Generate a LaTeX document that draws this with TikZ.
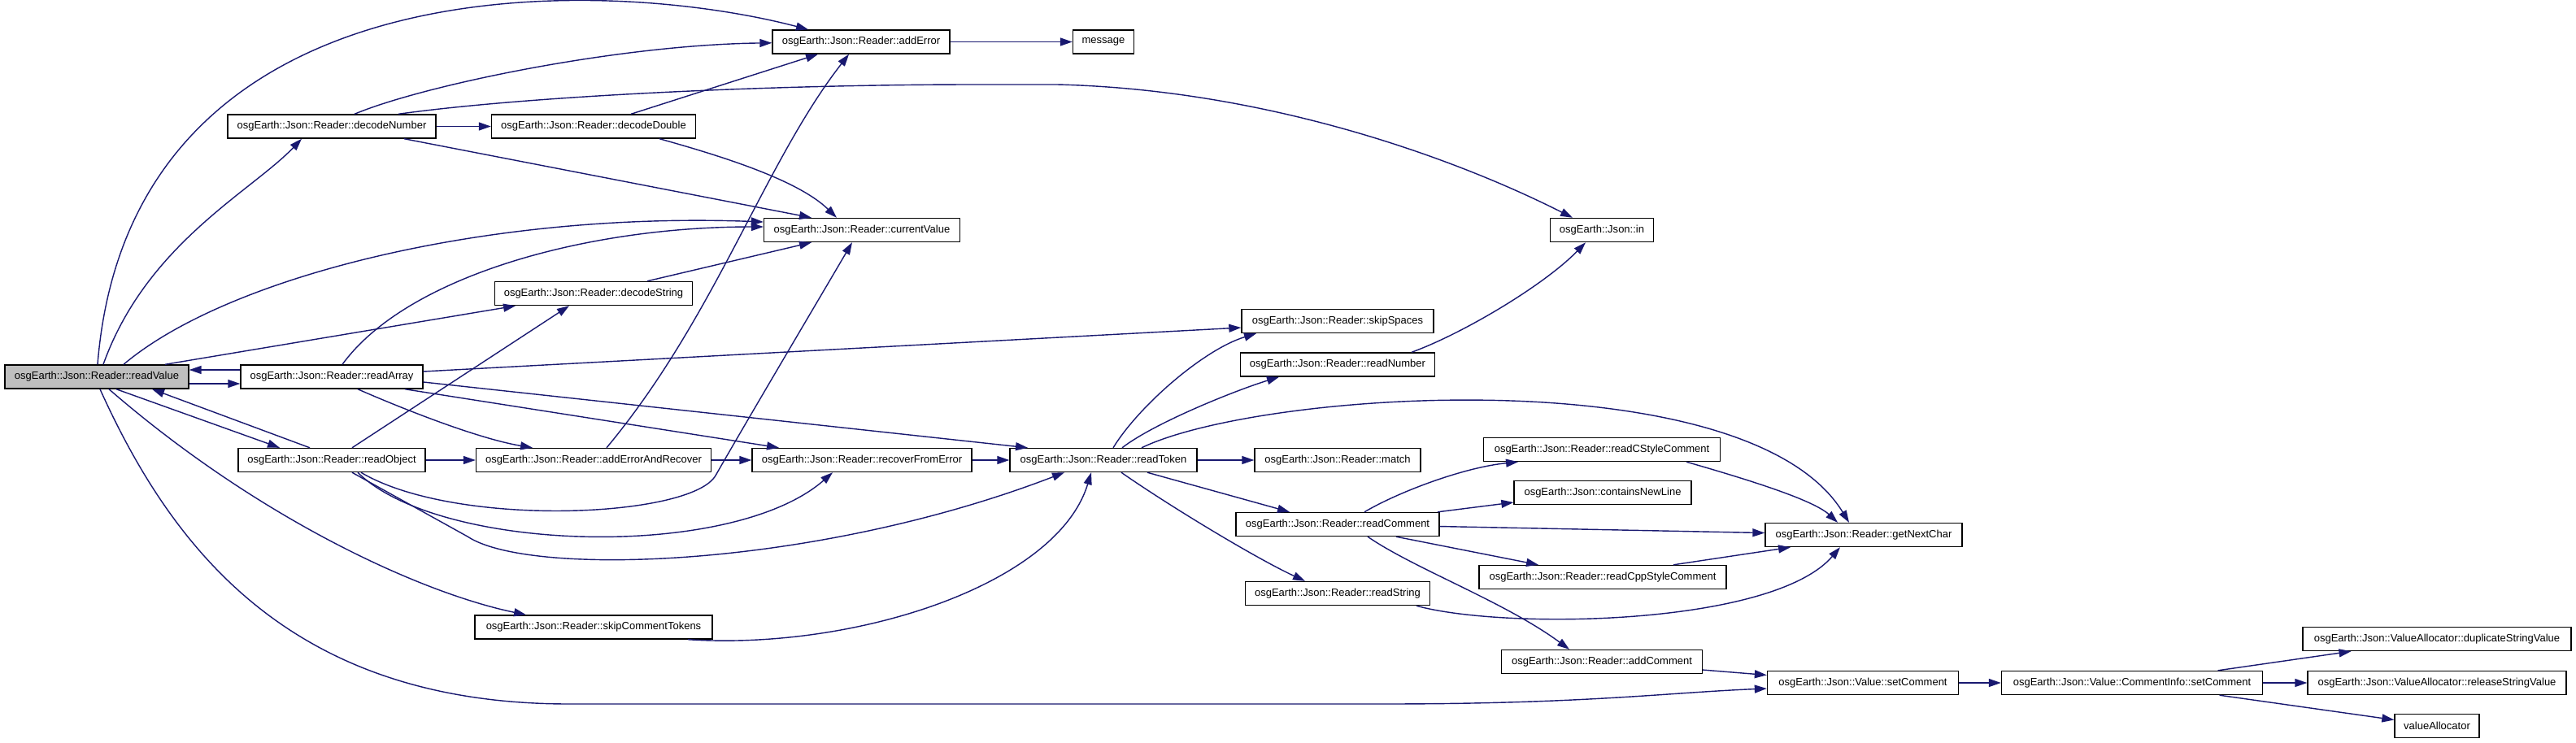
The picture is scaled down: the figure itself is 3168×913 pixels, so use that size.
\documentclass[tikz,border=0pt]{standalone}
\usepackage{fontspec}
\setmainfont{Liberation Sans}
\usetikzlibrary{arrows.meta}
\definecolor{callblue}{HTML}{191970}
\definecolor{rootgray}{HTML}{BFBFBF}
\tikzset{
  fn/.style={draw=black,fill=white,line width=0.8pt,minimum height=0.58cm,inner xsep=0pt,
    font=\fontsize{7.4}{8}\selectfont},
  fnroot/.style={fn,fill=rootgray},
  call/.style={-{Triangle[length=0.3cm,width=0.2cm]},callblue,line width=0.8pt},
}

\begin{document}
\begin{tikzpicture}[x=0.02cm,y=-0.02cm]
  \useasboundingbox (0,0) rectangle (3168,913);
  % functions, one column per call depth
  \node[fnroot,minimum width=4.52cm] (readValue) at (119,463.5) {osgEarth::Json::Reader::readValue};
  \node[fn,minimum width=5.12cm] (decodeNumber) at (408,155.5) {osgEarth::Json::Reader::decodeNumber};
  \node[fn,minimum width=4.48cm] (readArray) at (408,463.5) {osgEarth::Json::Reader::readArray};
  \node[fn,minimum width=4.60cm] (readObject) at (408,566) {osgEarth::Json::Reader::readObject};
  \node[fn,minimum width=5.02cm] (decodeDouble) at (730,155.5) {osgEarth::Json::Reader::decodeDouble};
  \node[fn,minimum width=4.86cm] (decodeString) at (730,361) {osgEarth::Json::Reader::decodeString};
  \node[fn,minimum width=5.78cm] (addErrorAndRecover) at (730,566) {osgEarth::Json::Reader::addErrorAndRecover};
  \node[fn,minimum width=5.84cm] (skipCommentTokens) at (730,771.5) {osgEarth::Json::Reader::skipCommentTokens};
  \node[fn,minimum width=4.36cm] (addError) at (1059,51.5) {osgEarth::Json::Reader::addError};
  \node[fn,minimum width=4.82cm] (currentValue) at (1060,283) {osgEarth::Json::Reader::currentValue};
  \node[fn,minimum width=5.40cm] (recoverFromError) at (1060,566) {osgEarth::Json::Reader::recoverFromError};
  \node[fn,minimum width=1.50cm] (message) at (1357,51.5) {message};
  \node[fn,minimum width=4.60cm] (readToken) at (1357,566) {osgEarth::Json::Reader::readToken};
  \node[fn,minimum width=4.72cm] (skipSpaces) at (1645,395) {osgEarth::Json::Reader::skipSpaces};
  \node[fn,minimum width=4.78cm] (readNumber) at (1645,448.5) {osgEarth::Json::Reader::readNumber};
  \node[fn,minimum width=4.08cm] (match) at (1645,566) {osgEarth::Json::Reader::match};
  \node[fn,minimum width=5.00cm] (readComment) at (1645,645) {osgEarth::Json::Reader::readComment};
  \node[fn,minimum width=4.54cm] (readString) at (1645,730) {osgEarth::Json::Reader::readString};
  \node[fn,minimum width=2.54cm] (in) at (1970,283) {osgEarth::Json::in};
  \node[fn,minimum width=5.82cm] (readCStyleComment) at (1970,553) {osgEarth::Json::Reader::readCStyleComment};
  \node[fn,minimum width=4.36cm] (containsNewLine) at (1971,606) {osgEarth::Json::containsNewLine};
  \node[fn,minimum width=6.08cm] (readCppStyleComment) at (1971,710) {osgEarth::Json::Reader::readCppStyleComment};
  \node[fn,minimum width=4.94cm] (addComment) at (1970,814) {osgEarth::Json::Reader::addComment};
  \node[fn,minimum width=4.84cm] (getNextChar) at (2292,658) {osgEarth::Json::Reader::getNextChar};
  \node[fn,minimum width=4.70cm] (vSetComment) at (2291,840) {osgEarth::Json::Value::setComment};
  \node[fn,minimum width=6.42cm] (ciSetComment) at (2622,840) {osgEarth::Json::Value::CommentInfo::setComment};
  \node[fn,minimum width=6.60cm] (duplicateStringValue) at (2997,786) {osgEarth::Json::ValueAllocator::duplicateStringValue};
  \node[fn,minimum width=6.36cm] (releaseStringValue) at (2997,840) {osgEarth::Json::ValueAllocator::releaseStringValue};
  \node[fn,minimum width=2.08cm] (valueAllocator) at (2997,893) {valueAllocator};

  % readValue
  \draw[call] ([xshift=0.02cm]readValue.north) .. controls (160,-50) and (740,-30) .. ([xshift=-1.3cm]addError.north);
  \draw[call] ([xshift=0.16cm]readValue.north) .. controls (180,300) and (310,235) .. ([xshift=-0.74cm]decodeNumber.south);
  \draw[call] ([xshift=0.66cm]readValue.north) .. controls (280,340) and (600,260) .. ([yshift=0.2cm]currentValue.west);
  \draw[call] ([xshift=1.68cm]readValue.north) -- ([xshift=-1.92cm]decodeString.south);
  \draw[call] ([yshift=-0.17cm]readValue.east) -- ([yshift=-0.17cm]readArray.west);
  \draw[call] ([xshift=0.48cm]readValue.south) -- ([xshift=-1.28cm]readObject.north);
  \draw[call] ([xshift=0.3cm]readValue.south) .. controls (320,640) and (520,730) .. ([xshift=-1.66cm]skipCommentTokens.north);
  \draw[call] ([xshift=0.08cm]readValue.south) .. controls (213,678) and (360,866) .. (700,866) -- (1700,866)
    .. controls (1950,866) and (2050,852) .. ([yshift=-0.14cm]vSetComment.west);
  % readArray
  \draw[call] ([yshift=0.17cm]readArray.west) -- ([yshift=0.17cm]readValue.east);
  \draw[call] ([xshift=0.26cm]readArray.north) .. controls (500,340) and (720,279) .. ([yshift=0.08cm]currentValue.west);
  \draw[call] ([yshift=0.13cm]readArray.east) -- ([yshift=-0.16cm]skipSpaces.west);
  \draw[call] ([yshift=-0.13cm]readArray.east) -- ([xshift=-1.86cm]readToken.north);
  \draw[call] ([xshift=0.64cm]readArray.south) .. controls (500,505) and (590,540) .. ([xshift=-1.5cm]addErrorAndRecover.north);
  \draw[call] ([xshift=1.8cm]readArray.south) -- ([xshift=-2.04cm]recoverFromError.north);
  % readObject
  \draw[call] ([xshift=-0.54cm]readObject.north) -- ([xshift=1.36cm]readValue.south);
  \draw[call] ([xshift=0.5cm]readObject.north) -- ([xshift=-0.6cm]decodeString.south);
  \draw[call] (readObject) -- (addErrorAndRecover);
  \draw[call] ([xshift=0.72cm]readObject.south) .. controls (560,650) and (850,637) .. (880,585)
    .. controls (920,515) and (1000,380) .. ([xshift=-0.24cm]currentValue.south);
  \draw[call] ([xshift=0.64cm]readObject.south) .. controls (540,680) and (900,690) .. ([xshift=-0.72cm]recoverFromError.south);
  \draw[call] ([xshift=0.5cm]readObject.south) -- (575,660) .. controls (650,710) and (1000,700) .. ([xshift=-0.96cm]readToken.south);
  % decodeNumber, decodeDouble, decodeString
  \draw[call] ([xshift=0.56cm]decodeNumber.north) .. controls (520,105) and (760,55) .. (addError);
  \draw[call] ([xshift=1.64cm]decodeNumber.north) .. controls (650,118) and (950,104) .. (1200,104) -- (1300,104)
    .. controls (1550,110) and (1780,190) .. ([xshift=-0.72cm]in.north);
  \draw[call] (decodeNumber) -- (decodeDouble);
  \draw[call] ([xshift=1.78cm]decodeNumber.south) -- ([xshift=-1.24cm]currentValue.north);
  \draw[call] ([xshift=0.92cm]decodeDouble.north) -- ([xshift=-1.06cm]addError.south);
  \draw[call] ([xshift=1.62cm]decodeDouble.south) .. controls (880,190) and (980,220) .. ([xshift=-0.62cm]currentValue.north);
  \draw[call] ([xshift=1.32cm]decodeString.north) -- ([xshift=-1.24cm]currentValue.south);
  % error handling
  \draw[call] ([xshift=0.32cm]addErrorAndRecover.north) .. controls (880,390) and (940,200) .. ([xshift=-0.3cm]addError.south);
  \draw[call] (addErrorAndRecover) -- (recoverFromError);
  \draw[call] (recoverFromError) -- (readToken);
  \draw[call] ([xshift=2.32cm]skipCommentTokens.south) .. controls (1050,800) and (1300,720) .. ([xshift=-0.3cm]readToken.south);
  \draw[call] (addError) -- (message);
  % readToken
  \draw[call] ([xshift=0.24cm]readToken.north) .. controls (1400,500) and (1480,430) .. ([xshift=-2cm]skipSpaces.south);
  \draw[call] ([xshift=0.46cm]readToken.north) .. controls (1420,520) and (1520,480) .. ([xshift=-1.44cm]readNumber.south);
  \draw[call] ([xshift=0.94cm]readToken.north) .. controls (1550,480) and (2150,440) .. ([xshift=-0.36cm]getNextChar.north);
  \draw[call] (readToken) -- (match);
  \draw[call] ([xshift=1.08cm]readToken.south) -- ([xshift=-1.18cm]readComment.north);
  \draw[call] ([xshift=0.44cm]readToken.south) .. controls (1439,623) and (1545,687) .. ([xshift=-0.8cm]readString.north);
  \draw[call] ([xshift=1.82cm]readNumber.north) .. controls (1800,410) and (1900,350) .. ([xshift=-0.4cm]in.south);
  % readComment
  \draw[call] ([xshift=0.66cm]readComment.north) .. controls (1720,605) and (1800,575) .. ([xshift=-2.06cm]readCStyleComment.south);
  \draw[call] ([xshift=2.46cm]readComment.north) -- ([yshift=-0.24cm]containsNewLine.west);
  \draw[call] (readComment) -- (getNextChar);
  \draw[call] ([xshift=1.44cm]readComment.south) -- ([xshift=-1.58cm]readCppStyleComment.north);
  \draw[call] ([xshift=0.74cm]readComment.south) .. controls (1740,700) and (1850,740) .. ([xshift=-0.8cm]addComment.north);
  \draw[call] ([xshift=1.94cm]readString.south) .. controls (1850,775) and (2180,770) .. ([xshift=-0.58cm]getNextChar.south);
  \draw[call] ([xshift=2.08cm]readCStyleComment.south) .. controls (2150,590) and (2230,615) .. ([xshift=-0.64cm]getNextChar.north);
  \draw[call] ([xshift=1.74cm]readCppStyleComment.north) -- ([xshift=-1.8cm]getNextChar.south);
  % setComment chain
  \draw[call] (addComment) -- (vSetComment);
  \draw[call] (vSetComment) -- (ciSetComment);
  \draw[call] (ciSetComment) -- (duplicateStringValue);
  \draw[call] (ciSetComment) -- (releaseStringValue);
  \draw[call] (ciSetComment) -- (valueAllocator);
\end{tikzpicture}
\end{document}
